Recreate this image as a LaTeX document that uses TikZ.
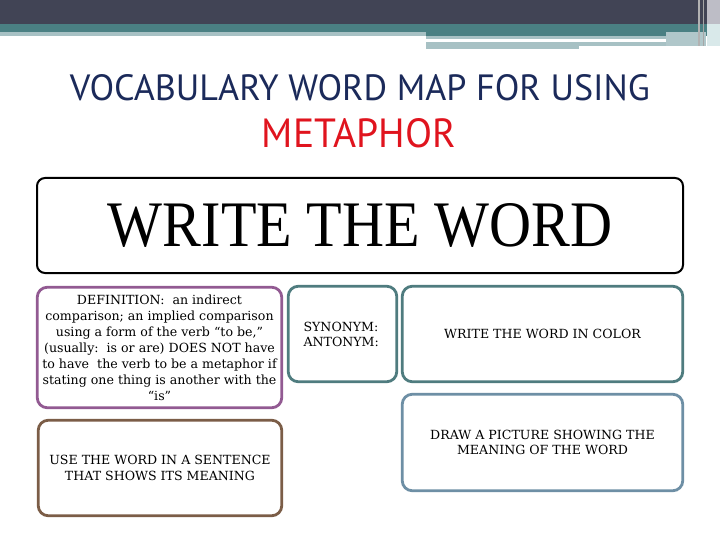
\documentclass[tikz,border=0pt]{standalone}
\usepackage{fontspec}
\usepackage{graphicx}
\setmainfont{DejaVu Serif}
\newfontfamily\titlefont{PT Sans}
\newfontfamily\bigserif{Liberation Serif}
\definecolor{topdark}{HTML}{414455}
\definecolor{topteal}{HTML}{4A8083}
\definecolor{toplight}{HTML}{A7C1C4}
\definecolor{topgray}{HTML}{BDBDC6}
\definecolor{topwhite}{HTML}{D9E9EA}
\definecolor{navy}{HTML}{1B2A5A}
\definecolor{metared}{HTML}{E0141E}
\definecolor{purpleb}{HTML}{925A92}
\definecolor{tealb}{HTML}{4F7C7F}
\definecolor{brownb}{HTML}{7B5D47}
\definecolor{blueb}{HTML}{6E8FA5}
\begin{document}
\begin{tikzpicture}[x=1pt,y=-1pt,
  box/.style={draw, rounded corners=10pt, line width=2.8pt, fill=white, inner sep=0pt},
  small/.style={font=\fontsize{12.6}{16}\selectfont, align=center, text=black}]
\useasboundingbox (0,0) rectangle (720,540);
\fill[white] (0,0) rectangle (720,540);
% top band
\fill[topdark] (0,0) rectangle (707,24);
\fill[topteal] (0,24) rectangle (707,36);
\fill[toplight] (0,32) rectangle (426,36);
\fill[toplight] (426,36) rectangle (666,39);
\fill[toplight] (426,42) rectangle (666,46);
\fill[toplight] (426,42) rectangle (579,49);
\fill[toplight!90!white] (666,32) rectangle (706,46);
\fill[topgray] (707,0) rectangle (720,24);
\fill[topwhite] (707,24) rectangle (720,46);
\fill[gray!60] (698,0) rectangle (699.5,46);
\fill[gray!70] (703,0) rectangle (704,46);
% title
\node[text=navy, inner sep=0pt] (title1) at (360,88) {\resizebox{580pt}{26pt}{\titlefont VOCABULARY WORD MAP FOR USING}};
\node[text=metared, inner sep=0pt] (title2) at (359,133) {\resizebox{194pt}{29pt}{\titlefont METAPHOR}};
% boxes
\node[box, draw=black, line width=2pt, rounded corners=8pt, minimum width=646pt, minimum height=95pt] (word) at (360,225.5) {\resizebox{504pt}{43pt}{\bigserif WRITE THE WORD}};
\node[box, draw=purpleb, minimum width=244.5pt, minimum height=120.5pt, small] (def) at (159.5,347.5)
  {DEFINITION:\ \ an indirect\\comparison; an implied comparison\\using a form of the verb “to be,”\\(usually:\ \ is or are) DOES NOT have\\to have\ \ the verb to be a metaphor if\\stating one thing is another with the\\“is”};
\node[box, draw=tealb, minimum width=108.5pt, minimum height=95.5pt] (syn) at (342.5,334) {};
\node[small, align=left, anchor=west, font=\fontsize{12.6}{15}\selectfont] (syntext) at (300,334.5) {SYNONYM:\\ANTONYM:};
\node[box, draw=tealb, minimum width=280.5pt, minimum height=95.5pt, small] (color) at (542.5,334) {WRITE THE WORD IN COLOR};
\node[box, draw=brownb, minimum width=243.5pt, minimum height=95.5pt, small] (use) at (160,468) {USE THE WORD IN A SENTENCE\\THAT SHOWS ITS MEANING};
\node[box, draw=blueb, minimum width=280.5pt, minimum height=96.5pt, small, font=\fontsize{12.6}{15}\selectfont] (pic) at (542.5,442.5) {DRAW A PICTURE SHOWING THE\\MEANING OF THE WORD};
\end{tikzpicture}
\end{document}
